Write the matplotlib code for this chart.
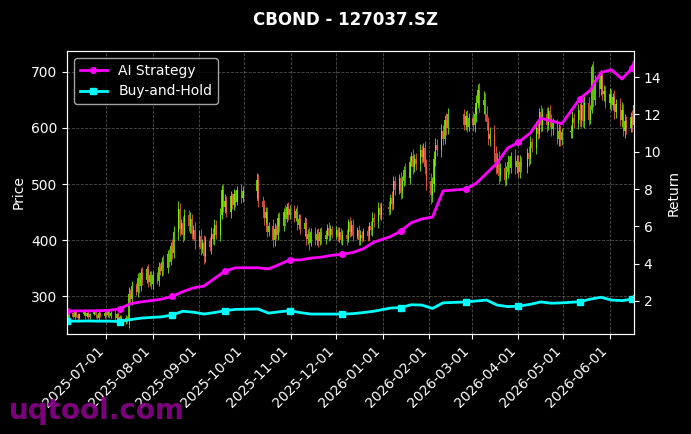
import numpy as np
import pandas as pd
import matplotlib
matplotlib.use("Agg")
import matplotlib.pyplot as plt
import matplotlib.dates as mdates

# trading calendar (China exchange holidays inside the window)
start_date = "2025-06-05"
end_date = "2026-06-17"
holidays = ["2025-10-01", "2025-10-02", "2025-10-03", "2025-10-06", "2025-10-07",
            "2025-10-08", "2026-01-01", "2026-01-02", "2026-02-16", "2026-02-17",
            "2026-02-18", "2026-02-19", "2026-02-20", "2026-02-23", "2026-04-06",
            "2026-05-01", "2026-05-04", "2026-05-05"]

# daily closes, month by month
close_2025_06 = [262, 270, 264, 272, 266, 261, 269, 273, 265, 270, 263, 268, 274, 266, 262, 270, 265, 271]
close_2025_07 = [266, 274, 265, 271, 262, 268, 258, 264, 255, 262, 256, 305, 295, 318, 308, 332, 318, 342,
                 330, 348, 326, 338, 322]
close_2025_08 = [338, 328, 352, 345, 362, 350, 375, 362, 390, 378, 415, 455, 420, 430, 410, 445, 425, 438,
                 412, 418, 398]
close_2025_09 = [408, 385, 395, 372, 398, 388, 412, 402, 428, 410, 445, 490, 460, 470, 450, 478, 462, 482,
                 468, 490, 476, 488]
close_2025_10 = [508, 470, 460, 440, 450, 415, 425, 400, 420, 410, 440, 425, 450, 438, 460, 445, 455]
close_2025_11 = [440, 452, 428, 438, 420, 430, 402, 412, 395, 415, 400, 412, 398, 415, 402, 410, 422, 408,
                 420, 410]
close_2025_12 = [418, 405, 415, 400, 410, 402, 432, 415, 428, 408, 418, 400, 410, 404, 416, 408, 425, 418,
                 440, 432, 458, 445, 460]
close_2026_01 = [455, 475, 465, 505, 490, 510, 485, 505, 525, 510, 540, 550, 530, 545, 535, 560, 548, 565,
                 530, 505]
close_2026_02 = [480, 500, 545, 570, 560, 595, 580, 615, 600, 625, 605, 622, 602, 618]
close_2026_03 = [605, 625, 645, 668, 640, 650, 625, 610, 580, 590, 555, 530, 545, 515, 528, 508, 522, 540,
                 528, 550, 530, 542]
close_2026_04 = [522, 540, 530, 555, 545, 575, 565, 600, 590, 628, 605, 625, 605, 630, 612, 598, 608, 580,
                 595, 578, 592]
close_2026_05 = [595, 618, 608, 632, 615, 640, 612, 645, 615, 632, 708, 650, 685, 670, 692, 660, 665, 645]
close_2026_06 = [660, 640, 655, 628, 642, 615, 632, 595, 612, 600, 620, 605, 640]
first_open = 268

# daily wick length beyond the body, month by month
wick_2025_06 = [3, 4, 2, 5, 3, 4, 2, 3, 5, 2, 4, 3, 2, 4, 3, 5, 2, 3]
wick_2025_07 = [3, 2, 4, 3, 5, 2, 4, 3, 2, 4, 3, 12, 8, 10, 6, 9, 12, 8, 10, 6, 9, 7, 8]
wick_2025_08 = [8, 6, 10, 7, 9, 12, 8, 10, 6, 12, 10, 15, 12, 8, 14, 10, 8, 12, 9, 10, 14]
wick_2025_09 = [10, 12, 8, 14, 10, 8, 12, 9, 10, 8, 12, 8, 10, 12, 8, 10, 6, 9, 8, 6, 10, 8]
wick_2025_10 = [12, 10, 8, 12, 9, 10, 8, 12, 10, 8, 9, 10, 8, 12, 6, 9, 8]
wick_2025_11 = [8, 6, 10, 8, 9, 12, 10, 8, 12, 6, 9, 8, 10, 6, 8, 9, 7, 10, 8, 6]
wick_2025_12 = [8, 6, 9, 7, 8, 10, 6, 9, 8, 10, 6, 9, 8, 7, 6, 10, 8, 9, 10, 8, 10, 8, 9]
wick_2026_01 = [10, 8, 12, 9, 10, 8, 12, 10, 8, 12, 10, 8, 12, 9, 10, 12, 10, 8, 12, 15]
wick_2026_02 = [15, 12, 14, 12, 10, 12, 10, 8, 12, 10, 9, 8, 10, 8]
wick_2026_03 = [10, 12, 14, 10, 12, 15, 12, 14, 10, 12, 15, 12, 10, 14, 10, 12, 10, 12, 10, 8, 12, 10]
wick_2026_04 = [10, 12, 8, 10, 12, 10, 8, 12, 10, 8, 12, 10, 12, 8, 10, 12, 10, 8, 12, 10, 8]
wick_2026_05 = [10, 12, 8, 10, 12, 14, 10, 12, 10, 8, 6, 12, 10, 14, 12, 10, 12, 10]
wick_2026_06 = [12, 10, 8, 12, 10, 12, 14, 10, 12, 10, 8, 12, 10]

# strategy curves, sampled every 5th trading day (plus the last day)
ai_return = [1.45, 1.47, 1.47, 1.48, 1.5, 1.58, 1.85, 1.95, 2.02, 2.1, 2.25, 2.5, 2.7, 2.8, 3.2, 3.6,
             3.78, 3.78, 3.72, 3.95, 4.2, 4.2, 4.3, 4.35, 4.45, 4.5, 4.6, 4.8, 5.15, 5.45, 5.75, 6.2,
             6.4, 6.5, 7.9, 8.0, 8.3, 8.85, 9.4, 10.2, 10.5, 11.0, 11.8, 11.65, 11.5, 12.85, 13.3,
             14.25, 14.4, 13.9, 14.5, 14.8]
bh_return = [0.92, 0.92, 0.93, 0.92, 0.92, 0.9, 1.0, 1.08, 1.12, 1.15, 1.25, 1.45, 1.4, 1.3, 1.38,
             1.48, 1.55, 1.57, 1.35, 1.42, 1.48, 1.38, 1.3, 1.3, 1.3, 1.3, 1.32, 1.38, 1.45, 1.62,
             1.65, 1.8, 1.78, 1.6, 1.9, 1.95, 2.0, 2.05, 1.78, 1.7, 1.72, 1.82, 1.95, 1.88, 1.9,
             1.96, 2.1, 2.2, 2.05, 2.02, 2.1, 2.23]

dates = pd.bdate_range(start_date, end_date, freq="C", holidays=holidays)
close = np.array(close_2025_06 + close_2025_07 + close_2025_08 + close_2025_09 + close_2025_10
                 + close_2025_11 + close_2025_12 + close_2026_01 + close_2026_02 + close_2026_03
                 + close_2026_04 + close_2026_05 + close_2026_06, dtype=float)
wick = np.array(wick_2025_06 + wick_2025_07 + wick_2025_08 + wick_2025_09 + wick_2025_10
                + wick_2025_11 + wick_2025_12 + wick_2026_01 + wick_2026_02 + wick_2026_03
                + wick_2026_04 + wick_2026_05 + wick_2026_06, dtype=float)
assert len(close) == len(dates) == len(wick), (len(close), len(dates), len(wick))
open_ = np.concatenate([[first_open], close[:-1]])
body_lo = np.minimum(open_, close)
body_hi = np.maximum(open_, close)

line_idx = list(range(0, len(dates), 5))
if line_idx[-1] != len(dates) - 1:
    line_idx.append(len(dates) - 1)
line_dates = dates[line_idx]
assert len(line_dates) == len(ai_return) == len(bh_return)

plt.style.use("dark_background")
fig = plt.figure(figsize=(6.91, 4.34), dpi=100)
ax = fig.add_axes([0.097, 0.2304, 0.8205, 0.652])
ax2 = ax.twinx()

up = close >= open_
colors = np.where(up, "#7CFC00", "#FF6347")
ax.vlines(dates, body_lo - wick, body_hi + wick, colors=colors, linewidth=0.7, alpha=0.8)
ax.bar(dates, body_hi - body_lo, bottom=body_lo, width=0.8,
       color=colors, alpha=0.8, linewidth=0)
ax.set_ylim(233, 737)
ax.set_ylabel("Price")
ax.grid(True, linestyle="--", linewidth=0.6, alpha=0.3)

ax2.plot(line_dates, ai_return, color="#FF00FF", linewidth=2, marker="o", markersize=4,
         markevery=5, label="AI Strategy")
ax2.plot(line_dates, bh_return, color="#00FFFF", linewidth=2, marker="s", markersize=4,
         markevery=5, label="Buy-and-Hold")
ax2.set_ylim(0.23, 15.4)
ax2.set_ylabel("Return")
ax2.legend(loc="upper left", fontsize=10)

ax.set_xlim(dates[0], dates[-1])
ax.xaxis.set_major_locator(mdates.MonthLocator())
ax.xaxis.set_major_formatter(mdates.DateFormatter("%Y-%m-%d"))
plt.setp(ax.get_xticklabels(), rotation=45, ha="right")

fig.suptitle("CBOND - 127037.SZ", fontsize=12, fontweight="bold", y=0.975)
fig.text(0.013, 0.035, "uqtool.com", fontsize=20, fontweight="bold", color="#8B008B",
         alpha=0.9, va="baseline")

fig.savefig("out.png", dpi=100)
